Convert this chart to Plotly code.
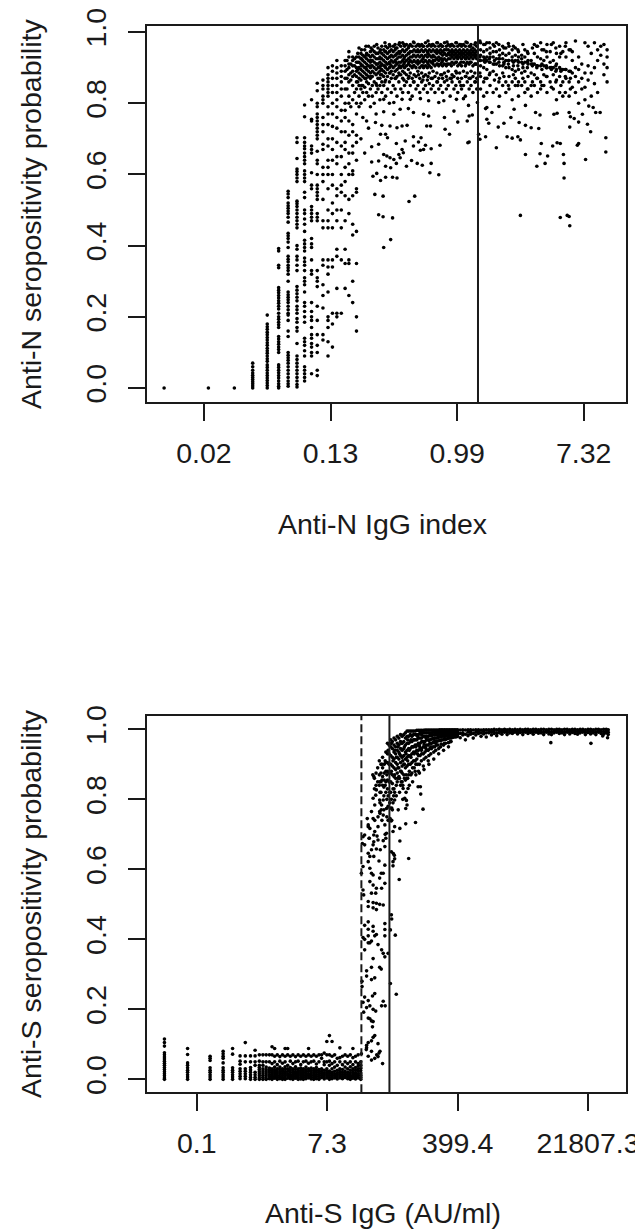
import plotly.graph_objects as go

# ---------- Anti-N panel: ln(index) columns, each with read-off probabilities ----------
n_col_x = [-4.63, -3.93, -3.52, -3.23, -3.0, -2.82, -2.67, -2.53, -2.41, -2.30, -2.21, -2.12, -2.04, -1.97, -1.90, -1.83, -1.77, -1.71, -1.65, -1.59]
n_col_y = [
 [0], [0], [0],
 [0,.006,.012,.018,.024,.03,.036,.042,.05,.06,.07],
 [0,.007,.014,.021,.028,.035,.042,.05,.058,.065,.075,.082,.09,.098,.105,.112,.12,.127,.135,.142,.15,.157,.165,.172,.18,.205],
 [.392,.385,.345,.338,.282,.275,.268,.26,.253,.245,.238,.23,.222,.21,.2,.193,.185,.178,.17,.145,.138,.13,.123,.115,.108,.1,.065,.058,.05,.043,.035,.028,.02,.012,.005,0],
 [.553,.545,.535,.52,.512,.505,.497,.49,.48,.466,.435,.428,.42,.41,.395,.37,.362,.355,.345,.338,.33,.32,.3,.27,.262,.255,.248,.24,.23,.22,.21,.205,.19,.16,.145,.1,.092,.085,.078,.07,.06,.05,.04,.03,.02,.012,.005],
 [.703,.69,.645,.615,.608,.6,.59,.58,.525,.518,.51,.5,.49,.48,.47,.46,.45,.4,.39,.37,.36,.345,.33,.285,.275,.265,.255,.245,.23,.22,.21,.195,.185,.17,.16,.125,.09,.08,.07,.06,.05,.04,.03,.02,.01,.003],
 [.795,.762,.703,.69,.68,.672,.66,.65,.64,.63,.61,.6,.59,.58,.55,.535,.5,.49,.475,.46,.44,.415,.405,.395,.385,.365,.355,.345,.33,.31,.3,.29,.27,.24,.23,.215,.2,.185,.14,.13,.12,.105,.09,.06,.05,.04,.03,.02],
 [.81,.755,.75,.68,.67,.66,.605,.57,.56,.51,.5,.49,.48,.47,.42,.405,.395,.36,.33,.32,.24,.215,.2,.19,.17,.15,.14,.125,.115,.1,.09,.04],
 [.856,.835,.8,.79,.77,.76,.75,.74,.73,.72,.71,.7,.665,.64,.63,.6,.57,.56,.55,.54,.53,.49,.48,.47,.33,.31,.3,.285,.23,.19,.15,.12,.1,.035,.05],
 [.865,.85,.84,.82,.81,.8,.76,.74,.72,.685,.67,.62,.6,.58,.53,.47,.45,.36,.345,.29,.26,.225,.15,.135],
 [.9,.88,.87,.86,.85,.84,.83,.82,.79,.77,.74,.7,.68,.64,.62,.6,.56,.5,.47,.45,.36,.34,.32,.27,.2,.19,.17,.13,.09],
 [.905,.89,.87,.85,.83,.8,.77,.735,.7,.67,.64,.6,.57,.52,.49,.45,.36,.34,.21,.18,.115],
 [.92,.9,.885,.87,.85,.83,.81,.79,.76,.73,.69,.65,.63,.56,.54,.5,.47,.39,.37,.28,.21,.2],
 [.905,.89,.875,.86,.84,.82,.78,.75,.72,.68,.65,.6,.57,.55,.5,.45,.36,.21],
 [.92,.905,.89,.87,.84,.8,.78,.76,.72,.69,.67,.62,.58,.54,.47,.39,.35,.28],
 [.945,.93,.91,.9,.88,.86,.82,.8,.75,.71,.66,.63,.6,.53,.49,.36,.35,.26],
 [.93,.92,.905,.89,.875,.85,.81,.74,.72,.68,.66,.61,.6,.54,.46,.43,.3,.24],
 [.93,.915,.9,.89,.875,.86,.84,.8,.77,.71,.69,.64,.56,.55,.44,.35,.2,.16],
]
# dense band columns
n_band_x = [-1.55,-1.52,-1.49,-1.46,-1.43,-1.40,-1.37,-1.34,-1.31,-1.28,-1.25,-1.22,-1.19,-1.16,-1.13,-1.10,-1.07,-1.04,-1.01,-.98,-.95,-.92,-.89,-.86,-.83,-.80,-.77,-.74,-.71,-.68,-.65,-.62,-.59,-.56,-.53,-.50,-.47,-.44,-.41,-.38,-.35,-.32,-.29,-.26,-.23,-.20,-.17,-.14,-.11,-.08,-.05,-.02,.01,.04,.07,.10,.13,.16,.19,.22,.25,.28,.31]
n_band_y = [
 [.955,.93,.915,.9,.885,.87,.85,.82,.79],
 [.94,.925,.91,.895,.88,.865,.84,.8,.7],
 [.935,.92,.905,.89,.875,.85,.83,.76],
 [.95,.93,.915,.9,.885,.87,.845,.81,.66],
 [.94,.925,.91,.895,.88,.86,.83,.75],
 [.96,.935,.92,.905,.89,.875,.855,.82,.73],
 [.945,.93,.915,.9,.885,.87,.84,.79],
 [.95,.935,.92,.905,.89,.875,.85,.82],
 [.96,.945,.93,.915,.9,.885,.86,.8],
 [.94,.925,.91,.895,.88,.855,.83,.77],
 [.955,.94,.925,.91,.9,.885,.87,.84],
 [.945,.93,.915,.9,.89,.87,.85,.81],
 [.96,.94,.925,.91,.895,.88,.86,.83],
 [.95,.935,.92,.905,.89,.875,.85],
 [.96,.945,.93,.915,.9,.885,.865,.82],
 [.955,.94,.925,.91,.895,.875,.84],
 [.965,.945,.93,.915,.9,.885,.86,.8],
 [.95,.935,.92,.905,.89,.87,.83],
 [.96,.945,.93,.915,.9,.88,.85],
 [.965,.95,.935,.92,.905,.89,.87,.84],
 [.955,.94,.925,.91,.895,.875,.82],
 [.965,.945,.93,.915,.9,.885,.86],
 [.96,.945,.93,.915,.9,.88,.84],
 [.97,.95,.935,.92,.905,.89,.87,.83],
 [.96,.945,.93,.915,.9,.885,.85],
 [.965,.95,.935,.92,.905,.88,.86],
 [.955,.94,.925,.91,.895,.87,.83],
 [.965,.945,.93,.92,.905,.885,.85],
 [.96,.945,.93,.915,.9,.87,.82],
 [.97,.95,.935,.92,.905,.88,.86],
 [.96,.945,.93,.915,.9,.875,.84],
 [.965,.95,.935,.92,.91,.89,.85],
 [.96,.945,.93,.915,.9,.87,.83],
 [.965,.95,.935,.92,.905,.885,.86],
 [.96,.945,.93,.915,.9,.875,.84],
 [.97,.95,.935,.92,.905,.88,.85],
 [.96,.945,.93,.915,.9,.865,.83],
 [.965,.95,.935,.92,.905,.885,.855],
 [.96,.945,.93,.915,.9,.87,.84],
 [.965,.95,.935,.92,.91,.89,.85],
 [.96,.945,.93,.92,.905,.875,.83],
 [.97,.95,.94,.925,.91,.885,.86],
 [.96,.945,.93,.92,.905,.87,.84],
 [.965,.95,.94,.925,.91,.88,.85],
 [.96,.945,.935,.92,.905,.87,.83],
 [.97,.95,.94,.925,.91,.885,.86],
 [.96,.95,.935,.92,.905,.875,.84],
 [.965,.95,.94,.925,.91,.89,.85],
 [.96,.945,.935,.925,.91,.87,.82],
 [.965,.95,.94,.93,.915,.88,.86],
 [.96,.945,.935,.925,.91,.875,.84],
 [.97,.95,.94,.93,.915,.89,.85],
 [.96,.945,.935,.925,.905,.87,.83],
 [.965,.95,.94,.93,.91,.885,.86],
 [.96,.945,.935,.925,.905,.87,.84],
 [.965,.95,.94,.93,.915,.89,.85],
 [.96,.945,.935,.925,.905,.875,.82],
 [.97,.95,.94,.93,.915,.885,.86],
 [.96,.945,.935,.925,.91,.87,.84],
 [.965,.95,.94,.93,.915,.89,.85],
 [.955,.945,.935,.925,.905,.875,.83],
 [.965,.95,.94,.93,.91,.885,.86],
 [.96,.945,.935,.925,.91,.87,.84],
]
# second pass over the band, off the first grid
n_fill_x = [-1.74,-1.68,-1.62,-1.57,-1.51,-1.44,-1.36,-1.27,-1.21,-1.14,-1.06,-.97,-.91,-.84,-.76,-.69,-.61,-.54,-.46,-.39,-.31,-.24,-.16,-.09,-.01,.06,.14,.21,.29,.36,.44,.51,.59,.66,.74,.81,.89,.96,1.04,1.11,1.19,1.26,1.34,1.41,1.49,1.56,1.64,1.71,1.79]
n_fill_a = [.92,.91,.925,.94,.95,.96,.955,.965,.95,.97,.96,.955,.97,.965,.96,.972,.965,.96,.975,.965,.97,.96,.972,.965,.97,.965,.972,.96,.97,.975,.965,.97,.96,.965,.955,.968,.96,.95,.965,.945,.955,.96,.95,.945,.965,.955,.94,.96,.95]
n_fill_b = [.895,.885,.905,.915,.925,.935,.92,.94,.925,.945,.93,.935,.94,.925,.94,.935,.945,.925,.94,.93,.945,.925,.935,.945,.93,.94,.925,.94,.935,.93,.925,.925,.92,.925,.915,.92,.915,.92,.91,.915,.91,.905,.91,.905,.9,.905,.895,.895,.89]
n_fill_c = [.87,.865,.88,.895,.905,.9,.905,.91,.905,.905,.91,.915,.905,.91,.915,.905,.915,.905,.91,.915,.91,.915,.91,.905,.915,.915,.91,.915,.91,.92,.915,.915,.91,.915,.91,.91,.905,.905,.9,.9,.905,.9,.895,.9,.895,.89,.89,.875,.87]
n_fill_d = [.84,.79,.83,.86,.85,.87,.875,.85,.88,.86,.885,.87,.88,.865,.875,.86,.88,.865,.875,.87,.86,.88,.865,.87,.885,.85,.875,.87,.86,.885,.87,.88,.865,.86,.875,.85,.88,.85,.87,.84,.86,.87,.85,.875,.845,.86,.85,.83,.84]
n_tail_x = [.37,.42,.47,.52,.57,.62,.67,.72,.77,.82,.87,.92,.97,1.02,1.07,1.12,1.17,1.22,1.27,1.32,1.37,1.42,1.47,1.52,1.57,1.62,1.67,1.72,1.77,1.82,1.87,1.92,1.97,2.02,2.07,2.12,2.17,2.22,2.27,2.32,2.37]
n_tail_y = [
 [.97,.95,.935,.92,.905,.875,.84],[.965,.945,.93,.92,.9,.86,.82],[.97,.95,.93,.92,.895,.87,.83],
 [.955,.94,.93,.915,.885,.85],[.965,.945,.93,.91,.89,.83],[.97,.945,.925,.91,.88,.84],
 [.95,.935,.925,.905,.87,.82],[.96,.94,.925,.905,.885,.85],[.955,.935,.92,.9,.86,.83],
 [.96,.94,.92,.9,.875,.84],[.95,.93,.92,.895,.86,.81],[.955,.935,.92,.89,.87,.85],
 [.945,.93,.915,.895,.86,.82],[.935,.925,.915,.885,.85],[.95,.93,.915,.89,.86,.83],
 [.94,.92,.91,.875,.84],[.92,.91,.885,.85,.82],[.965,.94,.91,.88,.85],
 [.96,.93,.905,.87,.83],[.97,.925,.905,.86,.84],[.95,.92,.905,.88,.85],
 [.965,.93,.9,.875,.83],[.945,.915,.9,.86],[.97,.92,.9,.88,.84],
 [.94,.91,.895,.865,.81],[.96,.93,.9,.875,.83],[.945,.895,.86,.82],
 [.97,.93,.895,.87],[.95,.89,.86,.82],[.945,.92,.885,.845],
 [.975,.9,.875,.83],[.93,.895,.86,.8],[.91,.87,.84],
 [.97,.885,.845,.81],[.96,.905,.865],[.94,.885,.82],
 [.97,.9,.855],[.95,.92,.83],[.96,.935],[.965,.91,.88],[.95,.93,.9,.86],
]
n_sparse_x = [-1.16,-1.05,-1.24,-1.17,-1.02,-.67,-.76,-1.30,-1.17,-.29,-.43,-.95,-1.02,-1.13,-1.21,-1.27,-1.33,-.41,-.55,-.63,-.72,-.80,-.90,-.96,-1.05,-1.13,-1.24,-1.35,-1.16,-1.11,-1.06,-1.0,-.92,-.85,-.87,-.27,-.41,-.5,-.53,-.58,-.69,-.69,-.57,-.61,-.82,-.96,-1.1,-1.24,-1.35,-1.13,-1.21,-.12,-.19,-.42,-.48,-.79,-.87,-.95,-1.06,-1.19,-1.29,.17,.19,.16,.01,-.2,.19,.24,-.05,-.45,-.53,-.69,-.77,-.9,-1.0,-1.16,.18,.32,.1,-.01,-.21,-.29,-.45,-.58,-.74,-.87,-1.0,-1.16,.34,.36,.45,.62,.79,.87,.96,1.0,.65,.74,.85,.98,1.08,1.17,1.29,.47,.5,.55,.47,.45,.66,.9,1.08,1.24,1.31,1.53,1.58,1.77,1.79,1.85,1.92,1.98,2.06,2.11,1.78,2.19,2.26,2.08,2.15,2.35,2.35,2.03,1.92,1.9,1.63,1.58,1.51,1.33,1.08,1.31,1.43,1.68,1.26,1.39,1.69,1.69,1.0,1.63,1.74,1.78,1.77]
n_sparse_y = [.395,.417,.487,.481,.478,.539,.524,.544,.539,.599,.605,.59,.592,.592,.583,.603,.595,.631,.626,.631,.639,.623,.647,.631,.619,.623,.638,.635,.656,.652,.647,.642,.656,.661,.67,.682,.672,.682,.67,.668,.68,.706,.703,.691,.694,.687,.703,.685,.678,.713,.713,.713,.727,.736,.736,.738,.736,.731,.736,.738,.746,.689,.691,.75,.747,.76,.764,.767,.778,.764,.769,.774,.785,.783,.769,.776,.794,.802,.813,.811,.807,.802,.807,.813,.811,.811,.802,.811,.713,.699,.706,.675,.706,.702,.706,.697,.733,.744,.76,.746,.738,.731,.729,.755,.744,.774,.788,.785,.791,.783,.794,.774,.767,.769,.772,.774,.762,.757,.747,.769,.741,.72,.733,.774,.774,.792,.788,.703,.663,.642,.687,.682,.687,.689,.68,.687,.656,.658,.652,.656,.623,.631,.631,.59,.485,.479,.485,.456,.482]
n_cutoff = [.33]

# ---------- Anti-S panel ----------
s_col_x = [-2.99,-2.28,-1.59,-1.19,-.90,-.67,-.51,-.35,-.21,-.08,.03,.13]
s_col_y = [
 [.115,.105,.095,.076,.07,.064,.058,.052,.046,.04,.034,.028,.022,.016,.01,.004,0],
 [.088,.071,.047,.04,.033,.026,.02,.013,.007,0],
 [.066,.06,.054,.033,.026,.02,.013,.007,0],
 [.08,.073,.066,.06,.047,.033,.026,.02,.013,.007,0],
 [.088,.072,.033,.026,.02,.013,.007,0],
 [.067,.052,.043,.03,.023,.016,.009,.002],
 [.105,.067,.05,.03,.023,.016,.009,.002],
 [.067,.05,.034,.027,.02,.013,.006,0],
 [.083,.067,.05,.04,.02,.013,.006,0],
 [.07,.052,.04,.034,.028,.022,.016,.01,.004,0],
 [.07,.05,.04,.03,.024,.018,.012,.006,0],
 [.07,.05,.035,.028,.022,.016,.01,.004,0],
]
s_base_x = [.23,.31,.39,.47,.55,.63,.71,.79,.87,.95,1.03,1.11,1.19,1.27,1.35,1.43,1.51,1.59,1.67,1.75,1.83,1.91,1.99,2.07,2.15,2.23,2.31,2.39,2.47,2.55,2.63,2.71,2.79,2.87,2.95,3.03]
s_base_y = [
 [.07,.05,.032,.026,.02,.014,.008,.002],[.093,.07,.045,.03,.024,.018,.012,.006,0],[.088,.066,.05,.035,.027,.021,.015,.009,.003],
 [.07,.042,.03,.024,.018,.012,.006,0],[.065,.052,.035,.028,.021,.015,.008,.002],[.07,.046,.03,.024,.017,.011,.005,0],
 [.088,.066,.05,.036,.028,.02,.014,.007,0],[.088,.07,.04,.03,.023,.016,.01,.003],[.066,.052,.034,.027,.02,.014,.008,.002],
 [.07,.045,.03,.024,.018,.012,.006,0],[.065,.05,.036,.028,.021,.015,.009,.003],[.07,.052,.03,.023,.017,.011,.005,0],
 [.066,.042,.032,.025,.019,.013,.007,.001],[.07,.05,.03,.024,.018,.012,.006,0],[.066,.052,.035,.027,.02,.014,.008,.002],
 [.088,.07,.046,.03,.023,.016,.01,.004],[.066,.05,.032,.025,.019,.013,.007,.001],[.07,.052,.03,.024,.018,.012,.006,0],
 [.066,.044,.034,.026,.02,.014,.008,.002],[.07,.05,.028,.022,.016,.01,.004,0],[.07,.06,.03,.023,.017,.011,.005],
 [.075,.05,.042,.026,.019,.013,.007,.001],[.108,.07,.05,.03,.022,.016,.01,.004],[.125,.07,.052,.04,.024,.017,.011,.005,0],
 [.108,.066,.045,.03,.02,.014,.008,.002],[.07,.05,.035,.023,.016,.01,.004],[.06,.04,.026,.019,.013,.007,.001],
 [.09,.062,.05,.03,.022,.016,.01,.004],[.066,.042,.028,.02,.014,.008,.002],[.07,.05,.035,.024,.017,.011,.005],
 [.066,.045,.03,.02,.014,.008,.002],[.07,.05,.036,.026,.019,.012,.006,0],[.088,.062,.042,.03,.022,.015,.009,.003],
 [.066,.05,.034,.026,.019,.013,.007,.001],[.07,.045,.038,.03,.023,.016,.01,.004],[.05,.04,.032,.025,.018,.012,.006,0],
]
s_mid_x = [3.43,3.61,3.23,3.26,3.31,3.41,3.46,3.36,3.46,3.41,3.49,3.51,3.61,3.67,3.72,3.61,3.66,3.56,3.72,3.82,3.77,3.56,3.46,3.43,3.53,3.26,3.29,3.1,3.15,3.08,3.15,3.29,3.43,3.56,3.72,3.8,3.82,3.41,3.26,3.36,3.51,3.63,3.31,3.43,3.77,3.77,3.59,3.26,3.1,3.05,3.31,3.36,3.41,3.66,3.61,3.72,3.31,3.41,3.51,3.77,3.67,3.1,3.12,3.36,3.49,3.26,3.41,3.51,3.61,3.72,3.26,3.41,3.51,3.26,3.41,3.15,3.26,3.41,3.51,3.26,3.46,3.77,3.77,3.1,3.15,3.77,3.56,3.36,3.31,3.67,3.72,3.26,3.15,3.41,3.77,3.87,3.36,3.21,3.21,3.66,3.61,3.46,3.36,3.07,3.07,3.15,3.26,3.46,3.39,3.1,3.21,3.31,3.41,3.72,3.67,3.78,3.12,3.49,3.26,3.31,3.41,3.36,3.39,3.46,3.41,3.36,3.26,3.21,3.56,3.36,3.21,3.59,3.05,3.2,3.26,3.36,3.46,3.52,3.56,3.62,3.7]
s_mid_y = [.865,.85,.745,.727,.717,.745,.74,.765,.784,.803,.812,.827,.798,.784,.798,.765,.77,.75,.755,.774,.727,.722,.708,.698,.695,.722,.689,.693,.698,.674,.67,.689,.679,.684,.682,.689,.703,.67,.646,.656,.658,.656,.637,.637,.665,.612,.624,.622,.608,.589,.603,.589,.584,.589,.575,.589,.565,.555,.546,.56,.546,.541,.527,.532,.532,.508,.505,.503,.5,.498,.494,.49,.485,.45,.437,.44,.429,.423,.414,.41,.41,.445,.428,.405,.4,.41,.385,.395,.39,.37,.36,.39,.37,.345,.35,.36,.32,.31,.295,.315,.32,.29,.285,.28,.265,.235,.225,.245,.238,.22,.205,.21,.2,.223,.21,.21,.192,.195,.175,.173,.165,.167,.15,.125,.12,.11,.105,.097,.102,.08,.09,.075,.073,.085,.066,.055,.06,.07,.065,.08,.045]
s_steep_x = [3.94,4.12,3.94,4.09,3.97,3.98,4.79,4.86,4.87,4.94,4.71,4.41,4.5,4.21,4.23,4.38,4.43,4.45,4.41,4.33,4.48,4.07,4.04,4.18,4.23,4.07,4.02,3.87,3.9,3.93,3.96,3.98,3.93,3.98,4.0,3.97,4.03,4.06,4.07,4.02,4.02,8.86,10.09,10.45,10.6]
s_steep_y = [.274,.243,.427,.412,.47,.458,.836,.836,.815,.772,.734,.73,.631,.571,.681,.803,.797,.784,.774,.831,.831,.798,.81,.77,.717,.722,.708,.74,.74,.745,.738,.74,.775,.775,.77,.65,.645,.64,.63,.622,.61,.962,.96,.981,.976]
s_top_x = [3.4,3.45,3.5,3.55,3.6,3.65,3.7,3.75,3.8,3.85,3.9,3.95,4.0,4.05,4.1,4.15,4.2,4.25,4.3,4.35,4.4,4.45,4.5,4.55,4.6,4.65,4.7,4.75,4.8,4.85,4.9,4.95,5.0,5.05,5.1,5.15,5.2,5.25,5.3,5.35,5.4,5.45,5.5,5.55,5.6,5.65,5.7,5.75,5.8,5.85,5.9,5.95,6.0]
s_top_y = [
 [.87],[.86,.83],[.875,.84],[.89,.85],[.91,.87,.84],[.9,.875,.85,.82],[.92,.89,.865,.84],[.9,.875,.855],
 [.935,.905,.88,.85,.82],[.96,.93,.905,.88,.855,.83],[.955,.93,.9,.875,.85],[.97,.95,.925,.9,.875,.85,.82],
 [.965,.945,.92,.895,.87,.845],[.975,.955,.935,.915,.89,.865,.83],[.97,.95,.93,.905,.885,.86],
 [.98,.96,.94,.92,.9,.875,.85],[.975,.955,.935,.915,.89,.865],[.985,.965,.945,.925,.905,.88,.84],
 [.98,.96,.94,.92,.895,.875,.85],[.985,.965,.945,.925,.9,.87],[.99,.975,.955,.935,.915,.89,.855],
 [.995,.98,.96,.94,.92,.895,.86],[.995,.98,.96,.945,.925,.9,.87],[.995,.985,.965,.945,.925,.9],
 [.995,.98,.965,.95,.93,.905,.875],[.995,.985,.97,.95,.935,.91],[.995,.985,.97,.955,.935,.91,.88],
 [.997,.985,.97,.955,.94,.915],[.997,.985,.975,.96,.94,.925,.88],[.997,.99,.975,.96,.945,.925],
 [.997,.99,.975,.965,.945,.93],[.997,.99,.98,.965,.95,.93,.895],[.998,.99,.98,.965,.95,.935],
 [.998,.99,.98,.97,.955,.94],[.998,.99,.98,.97,.955,.94,.91],[.998,.99,.982,.97,.96,.945],
 [.998,.99,.982,.972,.96,.945],[.998,.992,.984,.974,.962,.95],[.998,.992,.984,.975,.965,.95],
 [.998,.992,.985,.975,.965,.955],[.998,.992,.985,.977,.967,.955],[.999,.993,.986,.978,.968],
 [.999,.993,.986,.98,.97,.958],[.999,.993,.987,.98,.97],[.999,.994,.988,.98,.972,.96],
 [.999,.994,.988,.981,.972],[.999,.994,.988,.982,.974],[.999,.995,.989,.982,.975],
 [.999,.995,.989,.983,.975,.965],[.999,.995,.99,.984,.977],[.999,.995,.99,.984,.978],
 [.999,.995,.99,.985,.978],[.999,.996,.991,.985,.98],
]
# more points in the steep shoulder, off the first grid
s_fill_x = [3.62,3.68,3.74,3.78,3.83,3.87,3.92,3.97,4.02,4.07,4.12,4.17,4.22,4.27,4.32,4.37,4.42,4.47,4.52,4.57,4.62,4.67,4.72,4.77,4.83,4.89,4.97,5.03,5.12,5.18,5.27,5.33,5.42,5.48,5.57,5.63,5.72,5.78]
s_fill_a = [.82,.9,.81,.91,.87,.94,.9,.96,.91,.94,.92,.95,.93,.96,.91,.95,.93,.97,.94,.97,.95,.97,.95,.98,.952,.985,.958,.975,.968,.985,.972,.988,.978,.99,.982,.992,.985,.992]
s_fill_b = [.79,.855,.835,.84,.8,.81,.82,.88,.83,.87,.84,.89,.86,.88,.84,.9,.87,.91,.88,.92,.89,.93,.9,.93,.9,.94,.915,.945,.925,.95,.935,.96,.945,.968,.955,.972,.962,.978]
s_fill_c = [.76,.74,.77,.7,.75,.78,.79,.8,.79,.82,.81,.86,.82,.85,.8,.86,.82,.86,.84,.87,.85,.89,.87,.9,.875,.91,.885,.92,.9,.93,.915,.94,.93,.95,.94,.96,.95,.965]
s_flat_x = [6.08,6.16,6.24,6.32,6.4,6.48,6.56,6.64,6.72,6.8,6.88,6.96,7.04,7.12,7.2,7.28,7.36,7.44,7.52,7.6,7.68,7.76,7.84,7.92,8.0,8.08,8.16,8.24,8.32,8.4,8.48,8.56,8.64,8.72,8.8,8.88,8.96,9.04,9.12,9.2,9.28,9.36,9.44,9.52,9.6,9.68,9.76,9.84,9.92,10.0,10.08,10.16,10.24,10.32,10.4,10.48,10.56,10.62]
s_flat_lo = [.976,.984,.97,.982,.986,.975,.984,.988,.98,.987,.978,.99,.984,.988,.982,.99,.986,.992,.985,.99,.988,.992,.987,.991,.985,.992,.988,.991,.986,.992,.989,.99,.985,.992,.987,.985,.99,.992,.988,.99,.985,.992,.987,.991,.988,.986,.99,.992,.985,.991,.987,.99,.985,.992,.988,.986,.99,.985]
s_flat_mid = [.988,.99,.986,.992,.993,.988,.992,.994,.99,.994,.99,.995,.992,.995,.99,.995,.993,.996,.992,.995,.994,.996,.993,.996,.992,.996,.994,.996,.993,.996,.995,.995,.992,.996,.994,.992,.995,.996,.994,.995,.992,.996,.994,.996,.994,.993,.995,.996,.992,.996,.994,.995,.992,.996,.994,.993,.995,.992]
s_flat_hi = [.998,.999,.998,.999,.999,.998,.999,.999,.998,.999,.999,.999,.999,1.0,.999,1.0,.999,1.0,.999,1.0,.999,1.0,.999,1.0,.999,1.0,1.0,.999,1.0,1.0,.999,1.0,1.0,.999,1.0,1.0,.999,1.0,1.0,.999,1.0,1.0,.999,1.0,1.0,.999,1.0,1.0,.999,1.0,1.0,.999,1.0,1.0,.999,1.0,1.0,.999]
s_cutoff_solid = [3.91]
s_cutoff_dash = [3.05]

n_ticks = [-4, -2, 0, 2]
n_ticktext = ["0.02", "0.13", "0.99", "7.32"]
s_ticks = [-2, 2, 6, 10]
s_ticktext = ["0.1", "7.3", "399.4", "21807.3"]
p_ticks = [0, .2, .4, .6, .8, 1]
p_ticktext = ["0.0", "0.2", "0.4", "0.6", "0.8", "1.0"]


def flatten(xs, ys):
    ox, oy = [], []
    for x, col in zip(xs, ys):
        for y in col:
            ox.append(x)
            oy.append(y)
    return ox, oy


nx, ny = [], []
for a, b in [(n_col_x, n_col_y), (n_band_x, n_band_y), (n_tail_x, n_tail_y)]:
    fx, fy = flatten(a, b)
    nx += fx
    ny += fy
nx += n_sparse_x + n_fill_x * 4
ny += n_sparse_y + n_fill_a + n_fill_b + n_fill_c + n_fill_d

sx, sy = [], []
for a, b in [(s_col_x, s_col_y), (s_base_x, s_base_y), (s_top_x, s_top_y)]:
    fx, fy = flatten(a, b)
    sx += fx
    sy += fy
sx += s_mid_x + s_steep_x + s_flat_x * 3 + s_fill_x * 3
sy += s_mid_y + s_steep_y + s_flat_lo + s_flat_mid + s_flat_hi + s_fill_a + s_fill_b + s_fill_c

# The page body adds 8 px around the figure, so the figure is that much smaller.
PAGE = 8
W, H = 643 - PAGE, 1232 - PAGE
FONT = "Liberation Sans, Arial, sans-serif"
INK = "#1a1a1a"
mk = dict(color="black", size=3.6, line=dict(width=0))

fig = go.Figure()
fig.add_trace(go.Scatter(x=nx, y=ny, mode="markers", marker=mk, xaxis="x", yaxis="y", showlegend=False))
fig.add_trace(go.Scatter(x=sx, y=sy, mode="markers", marker=mk, xaxis="x2", yaxis="y2", showlegend=False))


def xax(rng, tv, tt, anchor):
    return dict(domain=[(146.7 - PAGE) / W, (625.7 - PAGE) / W], range=rng, tickmode="array", tickvals=tv, ticktext=tt, automargin=False,
                ticks="outside", ticklen=17, tickwidth=2, tickcolor=INK, showgrid=False, zeroline=False,
                showline=True, linecolor=INK, linewidth=2, mirror=True, anchor=anchor, ticklabeloverflow="allow",
                ticklabelstandoff=7, tickfont=dict(size=28.5, color=INK, family=FONT))


def yax(rng, top, bottom, anchor):
    return dict(domain=[1 - (bottom - PAGE) / H, 1 - (top - PAGE) / H], range=rng, tickmode="array", tickvals=p_ticks, ticktext=p_ticktext, automargin=False,
                ticks="outside", ticklen=17, tickwidth=2, tickcolor=INK, showgrid=False, zeroline=False,
                showline=True, linecolor=INK, linewidth=2, mirror=True, anchor=anchor, tickangle=-90, ticklabeloverflow="allow",
                ticklabelstandoff=10, tickfont=dict(size=28.5, color=INK, family=FONT))


fig.update_layout(
    width=W, height=H, margin=dict(l=0, r=0, t=0, b=0, autoexpand=False), paper_bgcolor="white", plot_bgcolor="white",
    xaxis=xax([-4.905, 2.664], n_ticks, n_ticktext, "y"),
    yaxis=yax([-.040, 1.017], 26, 402.3, "x"),
    xaxis2=xax([-3.534, 11.156], s_ticks, s_ticktext, "y2"),
    yaxis2=yax([-.037, 1.039], 715.7, 1092.3, "x2"),
)
fig.add_shape(type="line", xref="x", yref="y domain", x0=n_cutoff[0], x1=n_cutoff[0], y0=0, y1=1, line=dict(color=INK, width=2))
fig.add_shape(type="line", xref="x2", yref="y2 domain", x0=s_cutoff_solid[0], x1=s_cutoff_solid[0], y0=0, y1=1, line=dict(color=INK, width=2))
fig.add_shape(type="line", xref="x2", yref="y2 domain", x0=s_cutoff_dash[0], x1=s_cutoff_dash[0], y0=0, y1=1, line=dict(color=INK, width=2, dash="8px,4px"))

for text, px, py, ang in [("Anti-N IgG index", 383, 524, 0), ("Anti-S IgG (AU/ml)", 383, 1213, 0),
                          ("Anti-N seropositivity probability", 31, 214, -90), ("Anti-S seropositivity probability", 31, 904, -90)]:
    fig.add_annotation(text=text, xref="paper", yref="paper", x=(px - PAGE) / W, y=1 - (py - PAGE) / H, xanchor="center", yanchor="middle",
                       showarrow=False, textangle=ang, font=dict(size=28.5, color=INK, family=FONT))

fig.write_html("out.html")
